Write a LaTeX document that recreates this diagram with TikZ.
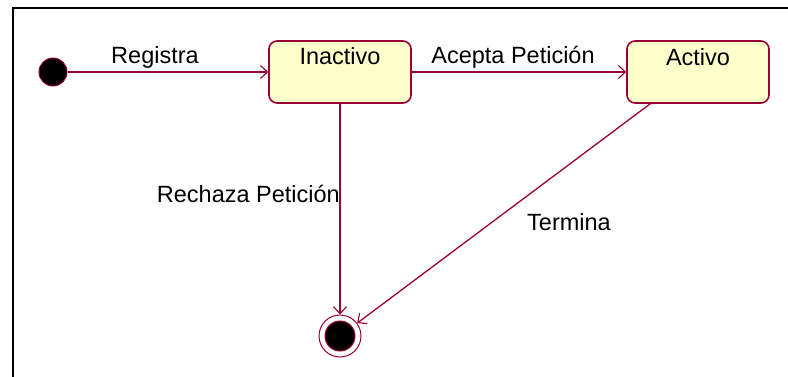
\documentclass[tikz,border=0pt]{standalone}
\usepackage{fontspec}
\setmainfont{Liberation Sans}
\usetikzlibrary{arrows.meta,calc}
\definecolor{rosered}{RGB}{153,0,51}
\definecolor{stfill}{RGB}{255,255,204}
\begin{document}
\begin{tikzpicture}[x=1pt,y=-1pt,
  font=\fontsize{23.5}{27}\selectfont,
  statebox/.style={draw=rosered,line width=1.6pt,fill=stfill,rounded corners=8pt,
    minimum width=142pt,minimum height=62pt,inner sep=0pt},
  trans/.style={draw=rosered,line width=1.3pt,-{Straight Barb[length=7pt,width=13pt,line width=1.1pt]}},
  lbl/.style={inner sep=0pt,text=black}]
\useasboundingbox (0,0) rectangle (788,377);
\fill[white] (0,0) rectangle (788,377);
\draw[line width=2.4pt] (13,377) -- (13,8) -- (788,8);
% states
\node[circle,fill=black,draw=rosered,line width=1pt,minimum size=28pt,inner sep=0pt] (init) at (53,72) {};
\node[statebox] (inact) at (340,72) {};
\node[lbl] (inacttxt) at (340,56) {Inactivo};
\node[statebox] (act) at (698,72) {};
\node[lbl] (acttxt) at (698,57) {Activo};
\node[circle,draw=rosered,line width=1pt,minimum size=42pt,inner sep=0pt] (fin) at (340,336) {};
\node[circle,fill=black,draw=rosered,line width=1pt,minimum size=30pt,inner sep=0pt] (fincore) at (340,336) {};
% transitions
\draw[trans] (init) -- (inact);
\draw[trans] (inact) -- (act);
\draw[trans] (inact.south) -- (fin.north);
\draw[trans] ($(act.south west)+(24,0)$) -- (fin);
% labels
\node[lbl] (lreg) at (155,57) {Registra};
\node[lbl] (lacep) at (513,57) {Acepta Petición};
\node[lbl,anchor=east] (lrech) at (340,194) {Rechaza Petición};
\node[lbl] (lterm) at (569,222) {Termina};
\end{tikzpicture}
\end{document}
